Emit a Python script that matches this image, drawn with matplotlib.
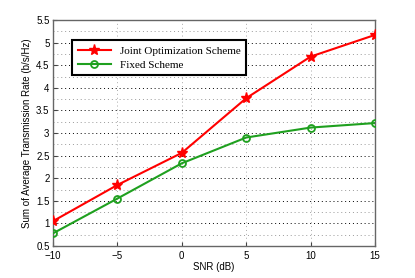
import matplotlib
matplotlib.use("Agg")
import matplotlib.pyplot as plt
from matplotlib.ticker import MultipleLocator, FuncFormatter

snr = [-10, -5, 0, 5, 10, 15]
joint = [1.05, 1.85, 2.56, 3.77, 4.69, 5.17]
fixed = [0.78, 1.55, 2.33, 2.90, 3.12, 3.22]
labels = ["Joint Optimization Scheme", "Fixed Scheme"]

plt.rcParams['font.family'] = ['Liberation Sans', 'DejaVu Sans']
fig = plt.figure(figsize=(4.15, 2.78), dpi=100)
ax = fig.add_axes([53/415, 1-246/278, (375-53)/415, (246-20)/278])

ax.plot(snr, joint, color='red', lw=1.5, marker='*', ms=8, label=labels[0], zorder=3)
ax.plot(snr, fixed, color='#1fa01f', lw=1.5, marker='o', ms=5, mfc='none', mew=1.3, label=labels[1], zorder=3)

ax.set_xlim(-10, 15)
ax.set_ylim(0.5, 5.5)
ax.set_xticks(snr)
ax.yaxis.set_major_locator(MultipleLocator(0.5))
ax.yaxis.set_minor_locator(MultipleLocator(0.25))
fmt = FuncFormatter(lambda v, p: ("%g" % v).replace('-', '\u2212'))
ax.xaxis.set_major_formatter(fmt)
ax.yaxis.set_major_formatter(fmt)
ax.grid(which='major', axis='y', color='black', ls=(0, (1, 3)), lw=0.7)
ax.grid(which='minor', axis='y', color='#999999', ls=(0, (1, 3)), lw=0.7)
ax.grid(which='major', axis='x', color='#aaaaaa', ls=(0, (1, 3)), lw=0.7)
ax.tick_params(which='minor', length=0)
ax.tick_params(which='major', direction='in', length=3, labelsize=7, color='#444444')
ax.tick_params(axis='x', pad=3.5)
ax.tick_params(axis='y', pad=2.5)
for s in ax.spines.values():
    s.set_color('#666666')
    s.set_linewidth(1.0)
ax.set_xlabel("SNR (dB)", fontsize=7, labelpad=1)
ax.set_ylabel("Sum of Average Transmission Rate (b/s/Hz)", fontsize=7, labelpad=3)

leg = ax.legend(loc='upper left', bbox_to_anchor=(0.042, 0.935), fancybox=False,
                prop={'family': 'Liberation Serif', 'size': 8}, handlelength=3.0,
                borderpad=0.5, labelspacing=0.4, framealpha=1)
leg.get_frame().set_edgecolor('black')
leg.get_frame().set_linewidth(1.5)

fig.savefig("out.png", dpi=100)
